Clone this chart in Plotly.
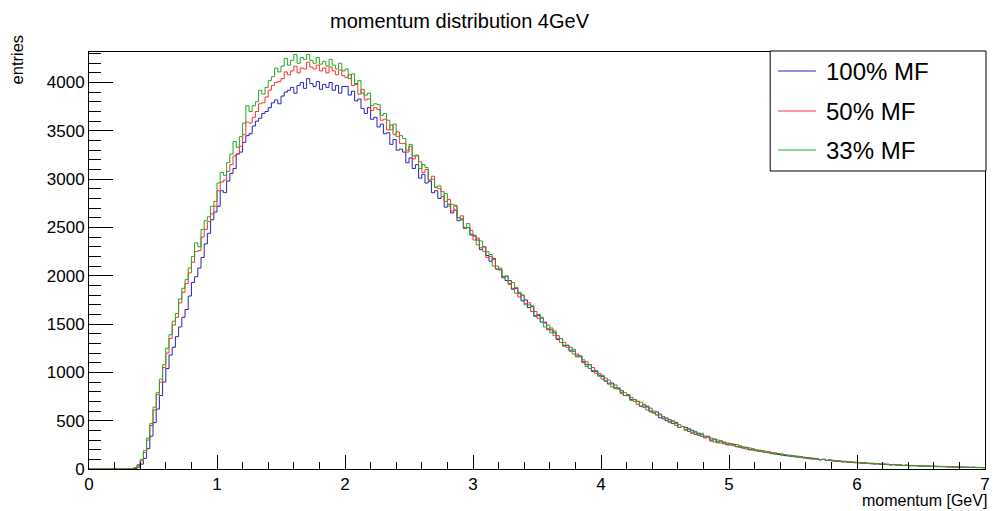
import numpy as np
import plotly.graph_objects as go

# Histogram binning: 280 bins of 0.025 GeV from 0 to 7 GeV
x_min, x_max, n_bins = 0.0, 7.0, 280

# Bin contents (entries per bin), 10 bins per row
mf100 = [
    0, 0, 0, 0, 0, 0, 0, 0, 0, 0,
    0, 0, 0, 0, 5, 20, 50, 110, 210, 340,
    480, 620, 760, 900, 1040, 1180, 1260, 1370, 1470, 1570,
    1650, 1790, 1930, 1990, 2080, 2190, 2330, 2440, 2580, 2660,
    2720, 2880, 2860, 2980, 3060, 3110, 3260, 3280, 3380, 3450,
    3470, 3550, 3600, 3630, 3680, 3700, 3740, 3790, 3820, 3780,
    3860, 3900, 3920, 3950, 3890, 3970, 4000, 3940, 4040, 3990,
    3960, 4010, 3930, 3980, 3950, 4000, 3920, 3970, 3890, 3960,
    3960, 3870, 3910, 3810, 3830, 3730, 3680, 3740, 3620, 3640,
    3540, 3570, 3470, 3480, 3360, 3410, 3300, 3310, 3280, 3170,
    3220, 3110, 3150, 3010, 3050, 2960, 2980, 2860, 2880, 2800,
    2820, 2710, 2740, 2650, 2680, 2570, 2580, 2490, 2500, 2430,
    2410, 2370, 2270, 2300, 2210, 2150, 2180, 2070, 2060, 1990,
    1950, 1950, 1860, 1870, 1820, 1740, 1750, 1670, 1680, 1580,
    1590, 1520, 1520, 1450, 1440, 1410, 1340, 1350, 1280, 1280,
    1220, 1220, 1170, 1170, 1110, 1080, 1080, 1010, 1010, 970,
    960, 910, 880, 890, 840, 830, 810, 760, 760, 720,
    720, 700, 650, 640, 650, 600, 580, 590, 530, 540,
    500, 510, 470, 480, 430, 440, 430, 390, 400, 360,
    370, 340, 340, 330, 290, 310, 280, 290, 270, 250,
    260, 253, 230, 236, 216, 221, 200, 208, 190, 184,
    188, 172, 174, 159, 165, 150, 155, 139, 144, 132,
    134, 123, 127, 115, 117, 105, 111, 101, 96, 100,
    89, 92, 90, 80, 83, 75, 79, 70, 72, 66,
    67, 60, 63, 57, 60, 52, 55, 49, 50, 49,
    42, 46, 41, 42, 37, 39, 35, 33, 35, 31,
    32, 28, 31, 27, 28, 24, 26, 25, 21, 23,
    20, 21, 18, 20, 18, 16, 18, 15, 16, 13,
]

mf50 = [
    0, 0, 0, 0, 0, 0, 0, 0, 0, 0,
    0, 0, 0, 2, 10, 35, 85, 170, 300, 450,
    610, 770, 900, 1050, 1200, 1350, 1490, 1570, 1720, 1830,
    1920, 2030, 2140, 2250, 2260, 2400, 2480, 2560, 2640, 2720,
    2880, 2970, 2990, 3080, 3150, 3240, 3260, 3340, 3460, 3590,
    3580, 3640, 3700, 3780, 3790, 3850, 3920, 3970, 4000, 4010,
    4040, 4110, 4080, 4120, 4170, 4100, 4150, 4140, 4210, 4160,
    4140, 4180, 4120, 4150, 4100, 4160, 4120, 4080, 4130, 4070,
    4050, 4080, 3970, 3990, 3880, 3930, 3820, 3830, 3710, 3740,
    3720, 3610, 3620, 3510, 3560, 3460, 3490, 3370, 3370, 3280,
    3340, 3210, 3240, 3180, 3070, 3100, 2990, 3030, 2910, 2900,
    2870, 2770, 2790, 2670, 2720, 2600, 2620, 2500, 2500, 2470,
    2370, 2390, 2290, 2300, 2190, 2200, 2170, 2070, 2070, 1980,
    1990, 1920, 1870, 1880, 1780, 1800, 1710, 1720, 1630, 1630,
    1560, 1560, 1510, 1440, 1460, 1380, 1380, 1310, 1310, 1260,
    1260, 1190, 1190, 1160, 1100, 1110, 1040, 1050, 990, 990,
    930, 940, 890, 880, 830, 840, 790, 760, 770, 740,
    700, 700, 650, 670, 640, 590, 600, 560, 560, 520,
    530, 480, 490, 470, 430, 440, 410, 420, 370, 380,
    350, 360, 320, 340, 300, 310, 270, 290, 260, 270,
    247, 257, 234, 238, 226, 207, 218, 194, 199, 184,
    188, 170, 178, 160, 163, 160, 144, 149, 135, 140,
    135, 122, 127, 115, 110, 115, 104, 107, 96, 100,
    90, 93, 83, 88, 79, 81, 71, 76, 67, 71,
    62, 65, 59, 62, 55, 53, 56, 49, 52, 45,
    47, 42, 45, 39, 37, 39, 34, 36, 35, 30,
    30, 32, 27, 30, 25, 27, 27, 22, 24, 21,
    22, 18, 21, 18, 17, 19, 15, 17, 14, 16,
]

mf33 = [
    0, 0, 0, 0, 0, 0, 0, 0, 0, 0,
    0, 0, 0, 3, 15, 45, 100, 190, 320, 470,
    640, 790, 930, 1080, 1250, 1390, 1530, 1610, 1760, 1870,
    1960, 2080, 2200, 2340, 2300, 2480, 2570, 2610, 2720, 2770,
    2960, 3070, 3040, 3170, 3260, 3390, 3330, 3440, 3580, 3760,
    3700, 3760, 3800, 3920, 3880, 3950, 4020, 4060, 4150, 4110,
    4170, 4250, 4180, 4230, 4290, 4200, 4260, 4240, 4290, 4230,
    4200, 4260, 4190, 4220, 4170, 4240, 4180, 4140, 4200, 4120,
    4140, 4040, 4090, 3980, 4020, 3890, 3870, 3890, 3760, 3780,
    3770, 3660, 3680, 3610, 3510, 3570, 3440, 3450, 3420, 3300,
    3360, 3240, 3250, 3110, 3150, 3120, 2990, 3000, 2920, 2930,
    2820, 2850, 2720, 2740, 2730, 2600, 2590, 2490, 2540, 2420,
    2420, 2320, 2360, 2250, 2250, 2220, 2100, 2100, 2080, 1980,
    2000, 1910, 1930, 1820, 1830, 1800, 1700, 1700, 1690, 1590,
    1600, 1570, 1470, 1490, 1410, 1430, 1350, 1350, 1270, 1280,
    1230, 1240, 1160, 1170, 1130, 1060, 1080, 1020, 1020, 960,
    970, 910, 920, 850, 870, 830, 780, 790, 770, 710,
    720, 670, 690, 660, 610, 630, 580, 560, 570, 520,
    520, 490, 500, 450, 460, 440, 400, 410, 380, 390,
    350, 370, 330, 330, 320, 280, 300, 270, 280, 260,
    265, 240, 252, 222, 228, 225, 198, 206, 188, 196,
    176, 184, 166, 171, 152, 160, 144, 150, 136, 141,
    126, 133, 118, 123, 108, 114, 102, 109, 96, 99,
    89, 95, 84, 86, 85, 74, 78, 70, 74, 65,
    68, 60, 65, 57, 54, 58, 51, 54, 47, 49,
    43, 47, 40, 42, 37, 40, 33, 37, 34, 30,
    33, 28, 30, 26, 30, 25, 23, 26, 22, 23,
    19, 22, 20, 17, 19, 16, 19, 14, 16, 14,
]

series = [
    ("100% MF", mf100, "#2424b8"),
    ("50% MF", mf50, "#ff3030"),
    ("33% MF", mf33, "#22a822"),
]

y_max = 4316

edges = np.linspace(x_min, x_max, n_bins + 1)

fig = go.Figure()
for name, counts, color in series:
    ys = list(counts) + [counts[-1]]
    fig.add_trace(go.Scatter(
        x=edges, y=ys, mode="lines", name=name,
        line=dict(color=color, width=1, shape="hv"),
        showlegend=False, hoverinfo="skip",
    ))

font = "Liberation Sans, Arial, Helvetica, sans-serif"
W, H = 995, 511
ml, mr, mt, mb = 89, 5, 52, 42
pw, ph = W - ml - mr, H - mt - mb


def px(xp):
    return (xp - ml) / pw


def py(yp):
    return (H - mb - yp) / ph


fig.update_layout(
    width=W, height=H,
    margin=dict(l=ml, r=mr, t=mt, b=mb),
    paper_bgcolor="white", plot_bgcolor="white",
    font=dict(family=font, color="black"),
    xaxis=dict(
        range=[x_min, x_max], dtick=1, tick0=0,
        ticks="inside", ticklen=14, tickwidth=1, tickcolor="black",
        minor=dict(ticks="inside", ticklen=7, dtick=0.2, tickcolor="black", showgrid=False),
        showline=True, linecolor="black", linewidth=1, mirror=True,
        showgrid=False, zeroline=False,
        tickfont=dict(size=17, family=font),
    ),
    yaxis=dict(
        range=[0, y_max], dtick=500, tick0=0,
        ticks="inside", ticklen=24, tickwidth=1, tickcolor="black",
        minor=dict(ticks="inside", ticklen=12, dtick=100, tickcolor="black", showgrid=False),
        showline=True, linecolor="black", linewidth=1, mirror=True,
        showgrid=False, zeroline=False,
        tickfont=dict(size=17, family=font),
    ),
)

annotations = [
    dict(text="momentum distribution 4GeV", x=px(462), y=py(21), xref="paper", yref="paper",
         xanchor="center", yanchor="middle", showarrow=False, font=dict(size=20)),
    dict(text="momentum [GeV]", x=1, y=0, xref="paper", yref="paper", xshift=4,
         xanchor="right", yanchor="bottom", yshift=-42, showarrow=False, font=dict(size=16)),
    dict(text="entries", x=px(17), y=py(86), xref="paper", yref="paper", textangle=-90,
         xanchor="center", yanchor="bottom", showarrow=False, font=dict(size=16.5)),
]

# Legend box drawn in paper coordinates
shapes = [dict(type="rect", xref="paper", yref="paper",
               x0=px(774), x1=px(991), y0=py(171), y1=py(51),
               line=dict(color="black", width=1), fillcolor="white", layer="above")]
row_y = [71, 111, 150]
for (name, _, color), ry in zip(series, row_y):
    shapes.append(dict(type="line", xref="paper", yref="paper",
                       x0=px(782), x1=px(820), y0=py(ry), y1=py(ry),
                       line=dict(color=color, width=1), layer="above"))
    annotations.append(dict(text=name, x=px(828), y=py(ry), xref="paper", yref="paper",
                            xanchor="left", yanchor="middle", showarrow=False,
                            font=dict(size=24)))

fig.update_layout(shapes=shapes, annotations=annotations)

fig.write_html("out.html")
